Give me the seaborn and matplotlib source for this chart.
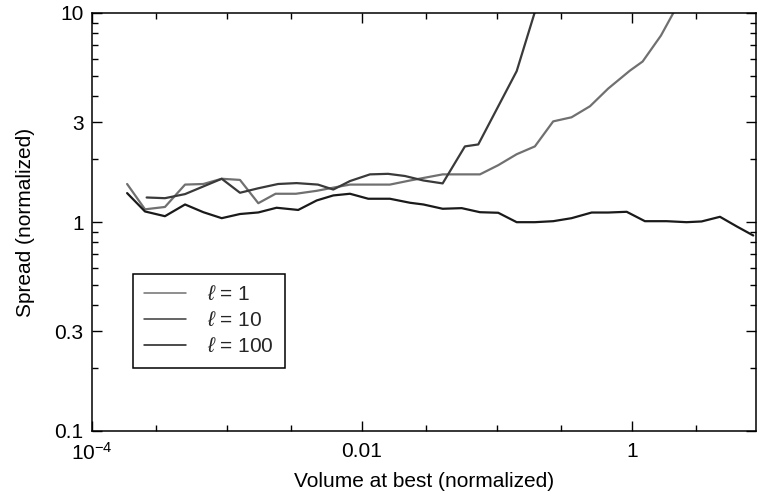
import numpy as np
import pandas as pd
import matplotlib
matplotlib.use("Agg")
import matplotlib.pyplot as plt
import seaborn as sns
from matplotlib.ticker import FixedLocator, NullFormatter, FixedFormatter

# ---- data ----
x_l1 = [1.82e-4, 2.47e-4, 3.47e-4, 4.89e-4, 6.68e-4, 9.14e-4, 1.248e-3, 1.706e-3,
        2.29e-3, 3.24e-3, 4.62e-3, 6.13e-3, 8.15e-3, 0.01146, 0.0161, 0.0227,
        0.0396, 0.0548, 0.0748, 0.1022, 0.140, 0.191, 0.261, 0.357, 0.489,
        0.667, 0.966, 1.20, 1.64, 2.02, 2.7]
y_l1 = [1.52, 1.15, 1.18, 1.51, 1.52, 1.61, 1.59, 1.23,
        1.365, 1.365, 1.41, 1.46, 1.51, 1.51, 1.51, 1.58,
        1.69, 1.69, 1.69, 1.87, 2.11, 2.30, 3.03, 3.17, 3.58,
        4.35, 5.30, 5.86, 7.80, 9.97, 14.0]

x_l10 = [2.54e-4, 3.47e-4, 4.89e-4, 9.14e-4, 1.248e-3, 1.706e-3, 2.39e-3, 3.28e-3,
         4.72e-3, 6.13e-3, 8.15e-3, 0.01146, 0.0156, 0.0208, 0.0285, 0.0396,
         0.0579, 0.0727, 0.140, 0.1896, 0.26]
y_l10 = [1.31, 1.30, 1.36, 1.61, 1.38, 1.45, 1.52, 1.535,
         1.51, 1.43, 1.57, 1.69, 1.70, 1.66, 1.58, 1.53,
         2.30, 2.35, 5.27, 9.97, 18.0]

x_l100 = [1.82e-4, 2.47e-4, 3.47e-4, 4.89e-4, 6.68e-4, 9.14e-4, 1.248e-3, 1.706e-3,
          2.33e-3, 3.37e-3, 4.62e-3, 6.13e-3, 8.15e-3, 0.01113, 0.0161, 0.0227,
          0.0285, 0.0396, 0.0548, 0.0748, 0.1022, 0.140, 0.191, 0.261, 0.357,
          0.503, 0.667, 0.914, 1.248, 1.807, 2.54, 3.28, 4.49, 6.0, 7.92]
y_l100 = [1.375, 1.123, 1.066, 1.213, 1.114, 1.043, 1.092, 1.111,
          1.17, 1.142, 1.268, 1.34, 1.365, 1.292, 1.292, 1.236,
          1.213, 1.157, 1.165, 1.114, 1.107, 0.998, 0.998, 1.009, 1.043,
          1.11, 1.11, 1.119, 1.009, 1.009, 0.998, 1.006, 1.059, 0.951, 0.862]

labels = [r"$\ell$ = 1", r"$\ell$ = 10", r"$\ell$ = 100"]
x_ticks_major = [1e-4, 1e-2, 1]
x_tick_labels = [r"10$^{-4}$", "0.01", "1"]
y_ticks_major = [0.1, 0.3, 1, 3, 10]
y_tick_labels = ["0.1", "0.3", "1", "3", "10"]

df = pd.concat([
    pd.DataFrame({"x": x_l1, "y": y_l1, "series": labels[0]}),
    pd.DataFrame({"x": x_l10, "y": y_l10, "series": labels[1]}),
    pd.DataFrame({"x": x_l100, "y": y_l100, "series": labels[2]}),
], ignore_index=True)

sns.set_theme(style="ticks")
plt.rcParams["font.family"] = ["Liberation Sans", "DejaVu Sans"]
plt.rcParams["mathtext.fontset"] = "custom"
plt.rcParams["mathtext.rm"] = "Liberation Sans"
plt.rcParams["mathtext.it"] = "Liberation Sans:italic"
plt.rcParams["mathtext.sf"] = "Liberation Sans"

fig = plt.figure(figsize=(7.61, 4.96), dpi=100)
ax = fig.add_axes([92/761, 1 - 431/496, (756-92)/761, (431-13)/496])

palette = {labels[0]: "#707070", labels[1]: "#3a3a3a", labels[2]: "#1a1a1a"}
sns.lineplot(data=df, x="x", y="y", hue="series", palette=palette,
             estimator=None, sort=False, linewidth=1.6, ax=ax, legend=True)

ax.set_xscale("log")
ax.set_yscale("log")
ax.set_xlim(1e-4, 8.3)
ax.set_ylim(0.1, 10)

ax.xaxis.set_major_locator(FixedLocator(x_ticks_major))
ax.xaxis.set_major_formatter(FixedFormatter(x_tick_labels))
ax.xaxis.set_minor_locator(FixedLocator([3e-4, 1e-3, 3e-3, 0.03, 0.1, 0.3, 3]))
ax.xaxis.set_minor_formatter(NullFormatter())

ax.yaxis.set_major_locator(FixedLocator(y_ticks_major))
ax.yaxis.set_major_formatter(FixedFormatter(y_tick_labels))
ymin = [0.2, 0.4, 0.5, 0.6, 0.7, 0.8, 0.9, 2, 4, 5, 6, 7, 8, 9]
ax.yaxis.set_minor_locator(FixedLocator(ymin))
ax.yaxis.set_minor_formatter(NullFormatter())

ax.tick_params(which="both", direction="in", top=True, right=True,
               color="black", width=1.0, labelsize=15, labelcolor="black")
ax.tick_params(which="major", length=7)
ax.tick_params(axis="x", which="major", pad=8)
ax.tick_params(axis="y", which="major", pad=6)
ax.tick_params(which="minor", length=4.5)
for s in ax.spines.values():
    s.set_visible(True)
    s.set_color("black")
    s.set_linewidth(1.1)

ax.set_xlabel("Volume at best (normalized)", fontsize=15, color="black", labelpad=6)
ax.set_ylabel("Spread (normalized)", fontsize=15, color="black", labelpad=14)

handles, labs = ax.get_legend_handles_labels()
leg = ax.legend(handles, labs, loc="upper left",
                bbox_to_anchor=(0.0617, 0.3756), borderaxespad=0,
                fontsize=15, frameon=True,
                fancybox=False, edgecolor="black", framealpha=1,
                handlelength=2.0, handletextpad=1.0, borderpad=0.55,
                labelspacing=0.33)
leg.get_frame().set_linewidth(1.1)
for h in leg.get_lines():
    h.set_linewidth(1.1)

fig.savefig("out.png", dpi=100)
